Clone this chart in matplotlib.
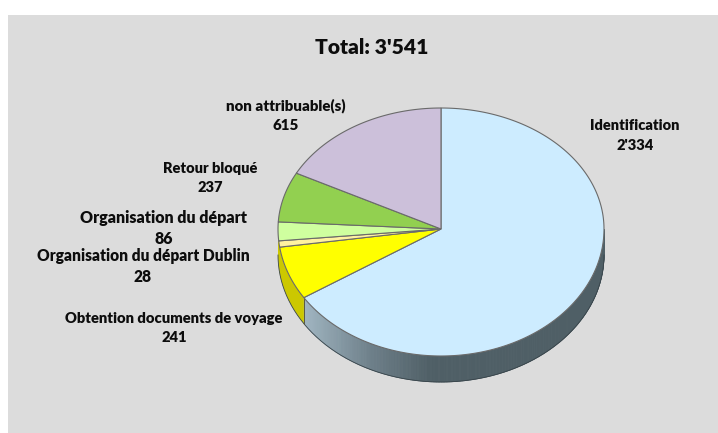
import numpy as np
import matplotlib
matplotlib.use("Agg")
import matplotlib.pyplot as plt
from matplotlib.patches import Rectangle, Polygon
from matplotlib.colors import LinearSegmentedColormap

labels = ["Identification", "Obtention documents de voyage", "Organisation du départ Dublin",
          "Organisation du départ", "Retour bloqué", "non attribuable(s)"]
value_text = ["2'334", "241", "28", "86", "237", "615"]
values = [2334, 241, 28, 86, 237, 615]
colors = ["#CDECFF", "#FFFF00", "#FFF2A0", "#CFFF9F", "#92D050", "#CCC0DA"]
title = "Total: 3'541"

W, H = 718, 433
fig = plt.figure(figsize=(W/100, H/100), dpi=100, facecolor="white")
ax = fig.add_axes([0, 0, 1, 1]); ax.set_xlim(0, W); ax.set_ylim(H, 0); ax.axis("off")
ax.add_patch(Rectangle((8, 15), W-8, H-15, fc="#DCDCDC", ec="none", zorder=0))

cx, cy, rx, ry_up, ry_down, depth = 441, 229, 163, 121, 127, 26

def rim(deg):
    t = np.radians(deg)
    c = np.cos(t)
    return cx + rx*np.sin(t), cy - np.where(c > 0, ry_up, ry_down)*c

cum = np.cumsum([0]+values)/sum(values)*360

# side wall: blue part with a left-to-right gradient
wall = LinearSegmentedColormap.from_list("s", [(0, "#A0B5C1"), (0.22, "#6E808A"), (0.42, "#4F5F66"), (1, "#4F5F66")])
ths = np.linspace(90, cum[1], 260)
for a, b in zip(ths[:-1], ths[1:]):
    x, y = rim(np.array([a, b]))
    f = (x.mean()-rim(cum[1])[0]) / (cx+rx-rim(cum[1])[0])
    ax.fill([x[0], x[1], x[1], x[0]], [y[0], y[1], y[1]+depth, y[0]+depth],
            color=wall(f), lw=0.6, zorder=2)
# side wall: yellow part, up to the leftmost point of the disc
x, y = rim(np.linspace(cum[1], 270, 40))
ax.fill(np.r_[x, x[::-1]], np.r_[y, (y+depth)[::-1]], color="#CCC800", lw=0, zorder=2)
x, y = rim(np.linspace(90, 270, 300))
ax.plot(x, y+depth, color="#38444A", lw=0.6, zorder=2.5)
x, y = rim(cum[1])
ax.plot([x, x], [y, y+depth], color="#5A5A40", lw=0.7, zorder=2.5)

# top of the disc
for i, c in enumerate(colors):
    x, y = rim(np.linspace(cum[i], cum[i+1], 200))
    ax.add_patch(Polygon(np.c_[np.r_[cx, x], np.r_[cy, y]], closed=True, fc=c,
                         ec="#6A6A6A", lw=0.8, zorder=3))

bold = dict(family="Lato", fontweight="heavy", color="#0D0D0D",
            ha="center", va="center", zorder=5)
ax.text(372, 47, title, fontsize=15.1, **bold)
pos = [(635, 135.5), (174, 328), (143, 266.5), (164, 228.5), (210, 178), (286, 115.5)]
sizes = [10.5, 10.65, 11.2, 11.5, 10.5, 10.8]
spacing = [1.57, 1.55, 1.45, 1.42, 1.55, 1.52]
for (x, y), l, v, s, ls in zip(pos, labels, value_text, sizes, spacing):
    ax.text(x, y, f"{l}\n{v}", fontsize=s, linespacing=ls, **bold)
fig.savefig("out.png", dpi=100)
